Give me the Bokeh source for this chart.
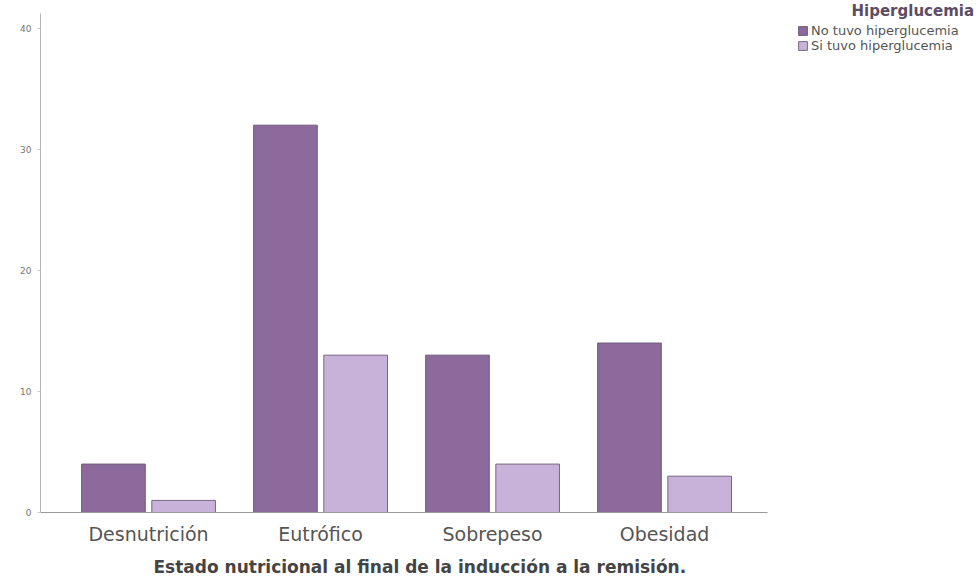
from bokeh.plotting import figure
from bokeh.models import (ColumnDataSource, Range1d, Legend, LegendItem,
                          Title, Label, FixedTicker)
from bokeh.transform import dodge
from bokeh.embed import file_html
from bokeh.resources import INLINE

# Nutritional status at the end of induction to remission
categories = ["Desnutrición", "Eutrófico", "Sobrepeso", "Obesidad"]
no_hiperglucemia = [4, 32, 13, 14]
si_hiperglucemia = [1, 13, 4, 3]
y_ticks = [0, 10, 20, 30, 40]

series_labels = ["No tuvo hiperglucemia", "Si tuvo hiperglucemia"]
legend_title = "Hiperglucemia"
x_title = "Estado nutricional al final de la inducción a la remisión."
dark_purple = "#8c6a9c"
light_purple = "#c8b2da"
dark_edge = "#6f5a7a"
light_edge = "#77687f"
font = "DejaVu Sans"

# one slot per category along the x axis
slots = list(range(len(categories)))
source = ColumnDataSource(data=dict(slot=slots, no=no_hiperglucemia, si=si_hiperglucemia))

p = figure(
    width=978, height=584,
    x_range=Range1d(-0.628, 4.825),
    y_range=Range1d(0, 42.3),
    output_backend="svg", toolbar_location=None,
    min_border_left=40, min_border_right=0, min_border_top=0, min_border_bottom=69,
)
p.outline_line_color = None
p.xgrid.visible = False
p.ygrid.visible = False

r_no = p.vbar(x=dodge("slot", -0.204), top="no", width=0.37, source=source,
              fill_color=dark_purple, line_color=dark_edge, line_width=1)
r_si = p.vbar(x=dodge("slot", 0.204), top="si", width=0.37, source=source,
              fill_color=light_purple, line_color=light_edge, line_width=1)

# y axis: small grey numbers, thin light axis line
p.yaxis.ticker = FixedTicker(ticks=y_ticks)
p.yaxis.bounds = (0, 41.2)
p.yaxis.axis_line_color = "#b5b5b5"
p.yaxis.major_tick_line_color = "#c8c8c8"
p.yaxis.major_tick_out = 3
p.yaxis.major_tick_in = 0
p.yaxis.minor_tick_line_color = None
p.yaxis.major_label_text_font = font
p.yaxis.major_label_text_font_size = "9px"
p.yaxis.major_label_text_color = "#777777"
p.yaxis.major_label_standoff = 6

# x axis: category names under each pair of bars
p.xaxis.ticker = FixedTicker(ticks=slots)
p.xaxis.major_label_overrides = {s: c for s, c in zip(slots, categories)}
p.xaxis.bounds = (-0.628, 3.6)
p.xaxis.axis_line_color = "#9a9a9a"
p.xaxis.major_tick_line_color = None
p.xaxis.minor_tick_line_color = None
p.xaxis.major_label_text_font = font
p.xaxis.major_label_text_font_size = "19px"
p.xaxis.major_label_text_color = "#555555"
p.xaxis.major_label_standoff = 4

# descriptive caption under the categories
p.add_layout(Title(text=x_title, align="left", offset=113, standoff=15,
                   text_font=font, text_font_size="17px", text_font_style="bold",
                   text_color="#444444"), "below")

legend = Legend(
    items=[LegendItem(label=series_labels[0], renderers=[r_no]),
           LegendItem(label=series_labels[1], renderers=[r_si])],
    location=(757, 459),
    padding=0, margin=0, spacing=0,
    glyph_width=11, glyph_height=11, label_height=11, label_standoff=3,
    label_text_font=font, label_text_font_size="13px", label_text_color="#555555",
    border_line_color=None, background_fill_alpha=0,
)
p.add_layout(legend, "center")

# legend heading
p.add_layout(Label(x=811, y=502, x_units="screen", y_units="screen",
                   text=legend_title, text_font=font, text_font_size="15px",
                   text_font_style="bold", text_color="#5d4c66", text_baseline="middle"))

open("out.html", "w").write(file_html(p, INLINE))
